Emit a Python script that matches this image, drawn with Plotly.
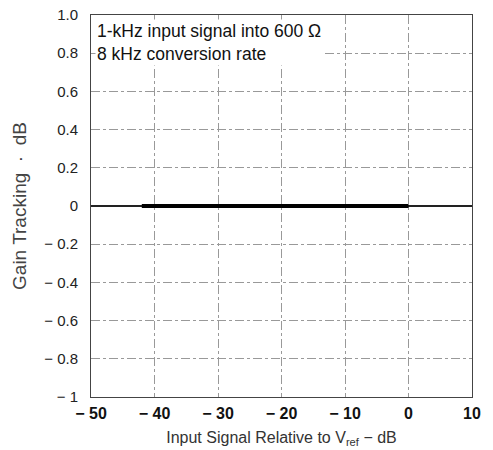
import plotly.graph_objects as go

# Data
input_db = [-42, -40, -37, -34, -30, -27, -24, -20, -17, -14, -10, -7, -4, -1, 0]
gain_tracking = [0.0, 0.0, 0.002, 0.002, 0.0, 0.003, 0.004, 0.0, 0.002, 0.002, 0.0, 0.002, 0.002, 0.004, 0.0]

x_ticks = [-50, -40, -30, -20, -10, 0, 10]
x_tick_labels = ["\u2212 50", "\u2212 40", "\u2212 30", "\u2212 20", "\u2212 10", "0", "10"]
y_ticks = [1.0, 0.8, 0.6, 0.4, 0.2, 0, -0.2, -0.4, -0.6, -0.8, -1]
y_tick_labels = ["1.0", "0.8", "0.6", "0.4", "0.2", "0", "\u2212 0.2", "\u2212 0.4", "\u2212 0.6", "\u2212 0.8", "\u2212 1"]

note_lines = ["1-kHz input signal into 600 \u03a9", "8 kHz conversion rate"]

fig = go.Figure()
fig.add_trace(go.Scatter(
    x=input_db, y=gain_tracking, mode="lines",
    line=dict(color="black", width=4), showlegend=False, hoverinfo="skip"))

font_family = "Liberation Sans, Arial, sans-serif"

# The page body adds an 8 px margin, so the figure is sized to fit inside the window.
fig.update_layout(
    width=485, height=442,
    margin=dict(l=83, r=21, t=7, b=53),
    paper_bgcolor="white", plot_bgcolor="white",
    font=dict(family=font_family, color="#222"),
    xaxis=dict(
        range=[-50, 10], tickvals=x_ticks, ticktext=x_tick_labels,
        showgrid=True, gridcolor="#999", griddash="dashdot", gridwidth=1,
        zeroline=False, showline=True, linecolor="#444", linewidth=1, mirror=True,
        ticks="", automargin=False, ticklabelstandoff=2, ticklabeloverflow="allow",
        tickfont=dict(size=16, family=font_family, color="#111", weight="bold"),
        title=dict(text="Input Signal Relative to V<sub>ref</sub> \u2212 dB",
                   font=dict(size=16, color="#333"), standoff=10),
    ),
    yaxis=dict(
        range=[-1, 1], tickvals=y_ticks, ticktext=y_tick_labels,
        showgrid=True, gridcolor="#999", griddash="dashdot", gridwidth=1,
        zeroline=True, zerolinecolor="#222", zerolinewidth=1.5,
        showline=True, linecolor="#444", linewidth=1, mirror=True,
        ticks="", ticklen=0, automargin=False, ticklabelstandoff=9,
        ticklabeloverflow="allow",
        tickfont=dict(size=15, color="#222"),
        title=dict(text="Gain Tracking\u00a0\u00a0\u00b7\u00a0\u00a0dB",
                   font=dict(size=19, color="#444"), standoff=12),
    ),
)

fig.add_annotation(
    x=-49.3, y=0.855, xref="x", yref="y", xanchor="left", yanchor="middle",
    text="<br>".join(note_lines), showarrow=False, align="left",
    font=dict(size=17.5, color="#111", family=font_family),
    bgcolor="white", borderpad=1,
)

fig.write_html("out.html")
